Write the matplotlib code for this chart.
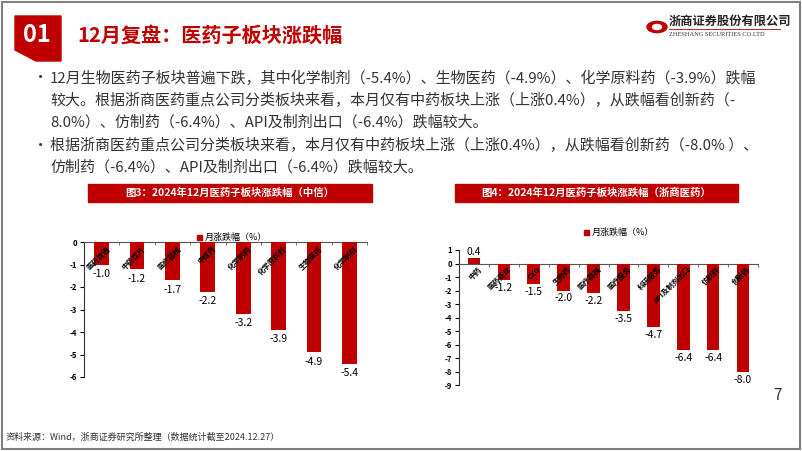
import numpy as np
import matplotlib.pyplot as plt
from matplotlib.patches import Rectangle, Polygon, Circle

plt.rcParams['font.family'] = ['Noto Sans CJK SC', 'DejaVu Sans']
plt.rcParams['axes.unicode_minus'] = False

# 数据
zx_labels = ["医药流通", "中药饮片", "医疗器械", "中成药", "化学制药", "化学原料药", "生物医药", "化学制剂"]
zx_values = [-1.0, -1.2, -1.7, -2.2, -3.2, -3.9, -4.9, -5.4]

zs_labels = ["中药", "医药商业", "CXO", "生物药", "医疗器械", "医疗服务", "科研服务", "API及制剂出口", "仿制药", "创新药"]
zs_values = [0.4, -1.2, -1.5, -2.0, -2.2, -3.5, -4.7, -6.4, -6.4, -8.0]

RED = '#C00000'
W, H = 802, 451

fig = plt.figure(figsize=(W / 100, H / 100), dpi=100)
fig.patch.set_facecolor('white')


def px(x, y):
    # 像素坐标 -> figure 坐标
    return x / W, 1 - y / H


def add_ax(x0, y0, x1, y1):
    return fig.add_axes([x0 / W, 1 - y1 / H, (x1 - x0) / W, (y1 - y0) / H])


# 边框
fig.add_artist(Rectangle((0.002, 0.004), 0.996, 0.992, transform=fig.transFigure,
                         fill=False, edgecolor='#808080', lw=1.5))

# 标题块 01
pts = [px(15, 16), px(61, 16), px(61, 61), px(36, 61), px(15, 50)]
fig.add_artist(Polygon(pts, closed=True, transform=fig.transFigure, color=RED))
fig.text(*px(37, 35), "01", color='white', fontsize=17, fontweight='bold',
         ha='center', va='center')
fig.text(*px(77, 35), "12月复盘：医药子板块涨跌幅", color=RED, fontsize=14.5,
         fontweight='bold', ha='left', va='center')

# logo
fig.add_artist(Circle(px(657, 27), 10 / W, transform=fig.transFigure, color=RED))
fig.add_artist(Circle(px(657, 27), 4.5 / W, transform=fig.transFigure, color='white'))
fig.text(*px(669, 21), "浙商证券股份有限公司", fontsize=8.8, fontweight='bold',
         color='#222222', ha='left', va='center')
fig.add_artist(plt.Line2D([669 / W, 780 / W], [1 - 29 / H, 1 - 29 / H],
                          transform=fig.transFigure, color=RED, lw=0.6))
fig.text(*px(669, 35), "ZHESHANG SECURITIES CO.LTD", fontsize=4.6,
         family='Liberation Serif', color='#333333', ha='left', va='center')

# 正文
lines = [
    (78, True, "12月生物医药子板块普遍下跌，其中化学制剂（-5.4%）、生物医药（-4.9%）、化学原料药（-3.9%）跌幅"),
    (100, False, "较大。根据浙商医药重点公司分类板块来看，本月仅有中药板块上涨（上涨0.4%），从跌幅看创新药（-"),
    (122, False, "8.0%）、仿制药（-6.4%）、API及制剂出口（-6.4%）跌幅较大。"),
    (145, True, "根据浙商医药重点公司分类板块来看，本月仅有中药板块上涨（上涨0.4%），从跌幅看创新药（-8.0% ）、"),
    (167, False, "仿制药（-6.4%）、API及制剂出口（-6.4%）跌幅较大。"),
]
for y, bullet, s in lines:
    if bullet:
        fig.text(*px(33, y), "•", fontsize=11, color='#333333', ha='left', va='center')
    fig.text(*px(50, y), s, fontsize=10.8, color='#333333', ha='left', va='center')

# 图表标题条
for x0, x1, t in [(88, 372, "图3：2024年12月医药子板块涨跌幅（中信）"),
                  (455, 738, "图4：2024年12月医药子板块涨跌幅（浙商医药）")]:
    fig.add_artist(Rectangle(px(x0, 202), (x1 - x0) / W, 18 / H,
                             transform=fig.transFigure, color=RED))
    fig.text(*px((x0 + x1) / 2, 193), t, color='white', fontsize=7.5,
             fontweight='bold', ha='center', va='center')


def draw_bars(ax, labels, values, ymin, ymax):
    x = np.arange(len(values))
    ax.bar(x, values, width=0.42, color=RED, zorder=3)
    ax.set_xlim(-0.5, len(values) - 0.5)
    ax.set_ylim(ymin, ymax)
    ax.set_yticks(np.arange(ymin, ymax + 1, 1))
    ax.set_yticklabels([str(v) for v in range(ymin, ymax + 1)], fontsize=5.5,
                       fontweight='bold')
    ax.tick_params(axis='y', length=3, width=0.8, pad=2)
    for s in ['top', 'right']:
        ax.spines[s].set_visible(False)
    ax.spines['bottom'].set_position(('data', 0))
    ax.spines['bottom'].set_color('#555555')
    ax.spines['left'].set_color('#333333')
    ax.set_xticks(np.arange(len(values) + 1) - 0.5)
    ax.set_xticklabels([])
    ax.tick_params(axis='x', direction='out', length=2.5, width=0.6, colors='#555555')
    for i, v in enumerate(values):
        if v >= 0:
            ax.text(i, v + 0.12, f"{v:.1f}", ha='center', va='bottom', fontsize=7.5)
        else:
            ax.text(i, v - 0.2, f"{v:.1f}", ha='center', va='top', fontsize=7.5)
        ax.text(i + 0.12, -0.12, labels[i], rotation=45, rotation_mode='anchor',
                ha='right', va='top', fontsize=5.3, fontweight='bold', zorder=4)


ax1 = add_ax(84, 242, 367, 377)
draw_bars(ax1, zx_labels, zx_values, -6, 0)
fig.add_artist(Rectangle(px(197, 240), 5 / W, 5 / H, transform=fig.transFigure, color=RED))
fig.text(*px(205, 237), "月涨跌幅（%）", fontsize=6.5, ha='left', va='center')

ax2 = add_ax(459, 250, 758, 385.5)
draw_bars(ax2, zs_labels, zs_values, -9, 1)
fig.add_artist(Rectangle(px(584, 235), 5 / W, 5 / H, transform=fig.transFigure, color=RED))
fig.text(*px(592, 232), "月涨跌幅（%）", fontsize=6.5, ha='left', va='center')

# 页脚
fig.text(*px(6, 437), "资料来源：Wind，浙商证券研究所整理（数据统计截至2024.12.27）",
         fontsize=6.5, color='#333333', ha='left', va='center')
fig.text(*px(778, 396), "7", fontsize=11, color='#333333', ha='center', va='center')

fig.savefig("out.png", dpi=100)
